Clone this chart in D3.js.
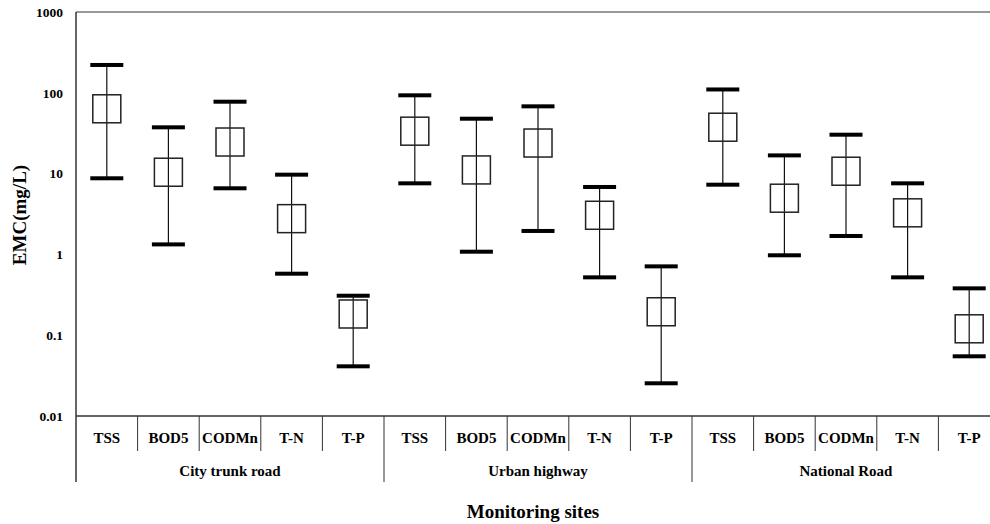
<!DOCTYPE html>
<html>
<head>
<meta charset="utf-8">
<script src="https://cdn.jsdelivr.net/npm/d3@7"></script>
<style>
  html, body { margin: 0; padding: 0; background: #fff; }
  svg { display: block; }
  text { font-family: "Liberation Serif", "Times New Roman", serif; font-weight: bold; fill: #000; }
</style>
</head>
<body>
<svg id="chart" width="990" height="524"></svg>
<script>
// Monitoring sites and pollutant parameters
const sites = ["City trunk road", "Urban highway", "National Road"];
const params = ["TSS", "BOD5", "CODMn", "T-N", "T-P"];

// Event mean concentration (mg/L) per site, in parameter order
const meanVals = [
  [63.4, 10.4, 24.6, 2.77, 0.183],
  [33.5, 11.1, 23.9, 3.05, 0.195],
  [37.5, 4.96, 10.7, 3.27, 0.120]
];
const maxVals = [
  [221, 37.4, 77.6, 9.7, 0.308],
  [93.1, 47.8, 68.0, 6.83, 0.711],
  [110, 16.8, 30.3, 7.58, 0.380]
];
const minVals = [
  [8.75, 1.33, 6.58, 0.577, 0.0412],
  [7.58, 1.08, 1.95, 0.52, 0.0254],
  [7.29, 0.975, 1.69, 0.52, 0.0548]
];

const yTicks = [0.01, 0.1, 1, 10, 100, 1000];

// Flatten into one row per site/parameter pair
const rows = [];
sites.forEach((s, si) => params.forEach((p, pi) => rows.push({
  key: s + "|" + p, site: s, param: p,
  mean: meanVals[si][pi], max: maxVals[si][pi], min: minVals[si][pi]
})));

const svg = d3.select("#chart");
const plotLeft = 76, plotTop = 12, plotBottom = 416, catW = 61.6;
const plotRight = plotLeft + catW * rows.length;

const x = d3.scaleBand().domain(rows.map(r => r.key)).range([plotLeft, plotRight]).padding(0);
const y = d3.scaleLog().domain([0.01, 1000]).range([plotBottom, plotTop]);

const axisColor = "#333";

// Frame: left axis, top and bottom lines
svg.append("line").attr("x1", plotLeft).attr("x2", plotLeft).attr("y1", plotTop).attr("y2", 482)
  .attr("stroke", axisColor).attr("stroke-width", 1.5);
svg.append("line").attr("x1", plotLeft).attr("x2", plotRight).attr("y1", plotTop).attr("y2", plotTop)
  .attr("stroke", axisColor).attr("stroke-width", 1.2);
svg.append("line").attr("x1", plotLeft).attr("x2", plotRight).attr("y1", plotBottom).attr("y2", plotBottom)
  .attr("stroke", axisColor).attr("stroke-width", 1.5);

// Y tick labels
const yAxis = d3.axisLeft(y).tickValues(yTicks).tickFormat(d => String(d)).tickSize(0).tickPadding(13);
const yg = svg.append("g").attr("transform", `translate(${plotLeft},0)`).call(yAxis);
yg.select(".domain").remove();
yg.selectAll("text").style("font-family", "Liberation Serif, serif").style("font-weight", "bold")
  .style("font-size", "13.5px").attr("fill", "#000");

// Y axis title
svg.append("text").attr("transform", `translate(26,${(plotTop + plotBottom) / 2 + 1}) rotate(-90)`)
  .attr("text-anchor", "middle").style("font-size", "19px").text("EMC(mg/L)");

// Category dividers and parameter labels
rows.forEach((r, i) => {
  const x0 = x(r.key);
  if (i > 0) {
    const isGroup = i % params.length === 0;
    svg.append("line").attr("x1", x0).attr("x2", x0).attr("y1", plotBottom).attr("y2", isGroup ? 482 : 451)
      .attr("stroke", axisColor).attr("stroke-width", 1);
  }
  svg.append("text").attr("x", x0 + x.bandwidth() / 2).attr("y", 443)
    .attr("text-anchor", "middle").style("font-size", "15px").text(r.param);
});
svg.append("line").attr("x1", plotRight).attr("x2", plotRight).attr("y1", plotBottom).attr("y2", 482)
  .attr("stroke", axisColor).attr("stroke-width", 1);

// Site labels
sites.forEach(s => {
  const a = x(s + "|" + params[0]);
  const b = x(s + "|" + params[params.length - 1]) + x.bandwidth();
  svg.append("text").attr("x", (a + b) / 2).attr("y", 476)
    .attr("text-anchor", "middle").style("font-size", "15px").text(s);
});

// X axis title
svg.append("text").attr("x", (plotLeft + 990) / 2).attr("y", 518)
  .attr("text-anchor", "middle").style("font-size", "19px").text("Monitoring sites");

// Range whiskers, caps and mean squares
const capW = 33, capH = 4, box = 28;
const g = svg.append("g");
rows.forEach(r => {
  const cx = x(r.key) + x.bandwidth() / 2;
  g.append("line").attr("x1", cx).attr("x2", cx).attr("y1", y(r.max)).attr("y2", y(r.min))
    .attr("stroke", "#111").attr("stroke-width", 1.2);
  [r.max, r.min].forEach(v => {
    g.append("rect").attr("x", cx - capW / 2).attr("y", y(v) - capH / 2)
      .attr("width", capW).attr("height", capH).attr("fill", "#000");
  });
  g.append("rect").attr("x", cx - box / 2).attr("y", y(r.mean) - box / 2)
    .attr("width", box).attr("height", box).attr("fill", "none")
    .attr("stroke", "#222").attr("stroke-width", 1.5);
});
</script>
</body>
</html>
